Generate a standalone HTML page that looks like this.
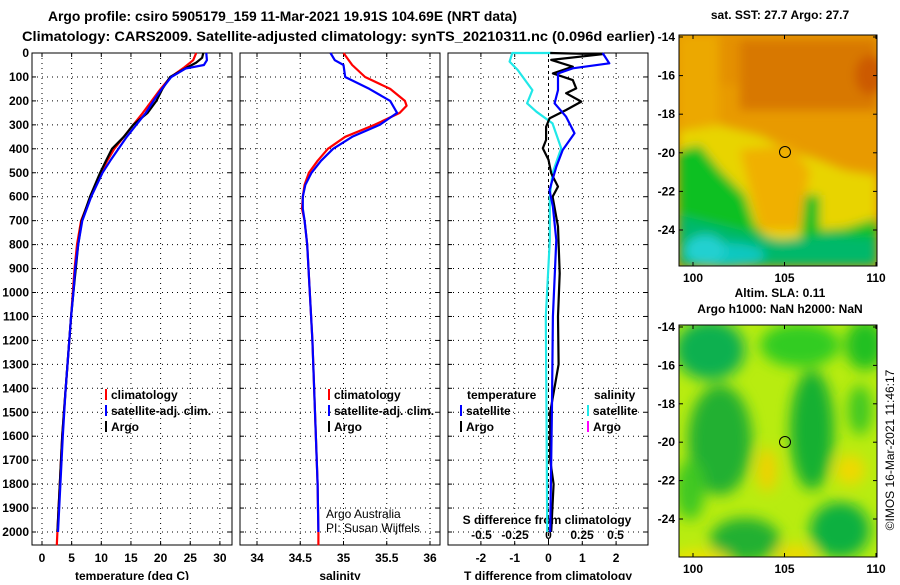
<!DOCTYPE html>
<html><head><meta charset="utf-8"><style>
body{margin:0;background:#fff;width:900px;height:580px;overflow:hidden}
svg text{font-family:"Liberation Sans",sans-serif;font-weight:bold;font-size:12px;fill:#000}
</style></head><body>
<svg id="c" width="900" height="580" xmlns="http://www.w3.org/2000/svg">
<defs>
<filter id="b3"><feGaussianBlur stdDeviation="5"/></filter>
<filter id="b7"><feGaussianBlur stdDeviation="7"/></filter>
<clipPath id="cm1"><rect x="679" y="35" width="198" height="231"/></clipPath>
<clipPath id="cm2"><rect x="679" y="325" width="198" height="232"/></clipPath>
</defs>
<text x="48" y="21" textLength="469" lengthAdjust="spacingAndGlyphs" style="font-size:14px">Argo profile: csiro 5905179_159 11-Mar-2021 19.91S 104.69E (NRT data)</text>
<text x="22" y="41" textLength="633" lengthAdjust="spacingAndGlyphs" style="font-size:14px">Climatology: CARS2009. Satellite-adjusted climatology: synTS_20210311.nc (0.096d earlier)</text>

<g>
<text x="780" y="19" text-anchor="middle">sat. SST: 27.7 Argo: 27.7</text>
<g clip-path="url(#cm1)">
<rect x="679" y="35" width="198" height="231" fill="#e89a00"/>
<g filter="url(#b3)">
<rect x="679" y="35" width="198" height="50" fill="#e49000"/>
<rect x="740" y="40" width="137" height="70" fill="#d87800"/>
<ellipse cx="870" cy="75" rx="15" ry="20" fill="#cc5a00"/>
<rect x="679" y="35" width="40" height="90" fill="#eca800"/>
<polygon points="679,130 720,125 760,135 790,150 820,160 845,170 877,175 877,240 679,240" fill="#e8d400"/>
<polygon points="740,150 790,145 810,170 800,230 760,230" fill="#f0b000"/>
<polygon points="679,150 700,145 720,170 745,195 755,225 775,245 800,240 805,195 820,195 820,230 845,228 877,218 877,266 679,266" fill="#10c020"/>
<polygon points="679,215 720,225 780,240 830,235 877,238 877,266 679,266" fill="#00b86a"/>
<ellipse cx="725" cy="255" rx="40" ry="12" fill="#10c8c0"/>
<ellipse cx="705" cy="250" rx="20" ry="15" fill="#20d0d0"/>
</g></g>
<rect x="679" y="35" width="198" height="231" fill="none" stroke="#000"/>
<circle cx="785" cy="152" r="5.5" fill="none" stroke="#000"/>
</g>

<g>
<text x="780" y="297" text-anchor="middle">Altim. SLA: 0.11</text>
<text x="780" y="313" text-anchor="middle">Argo h1000: NaN h2000: NaN</text>
<g clip-path="url(#cm2)">
<rect x="679" y="325" width="198" height="232" fill="#b8ec10"/>
<g filter="url(#b7)">
<ellipse cx="710" cy="350" rx="35" ry="30" fill="#10b050"/>
<ellipse cx="800" cy="345" rx="40" ry="22" fill="#30cc20"/>
<ellipse cx="865" cy="345" rx="20" ry="25" fill="#20c020"/>
<ellipse cx="720" cy="440" rx="32" ry="55" fill="#20b030"/>
<ellipse cx="812" cy="430" rx="22" ry="60" fill="#18b030"/>
<ellipse cx="860" cy="410" rx="12" ry="25" fill="#40c820"/>
<ellipse cx="745" cy="540" rx="35" ry="22" fill="#20b030"/>
<ellipse cx="840" cy="530" rx="30" ry="28" fill="#10b040"/>
<ellipse cx="690" cy="490" rx="15" ry="30" fill="#40c820"/>
<ellipse cx="767" cy="470" rx="10" ry="22" fill="#f0d000"/>
<ellipse cx="850" cy="470" rx="15" ry="15" fill="#f0d800"/>
<ellipse cx="795" cy="555" rx="20" ry="10" fill="#f0d800"/>
<ellipse cx="700" cy="560" rx="30" ry="10" fill="#f0e000"/>
</g></g>
<rect x="679" y="325" width="198" height="232" fill="none" stroke="#000"/>
<circle cx="785" cy="442" r="5.5" fill="none" stroke="#000"/>
</g>
<text transform="translate(894,450) rotate(-90)" text-anchor="middle" style="font-weight:normal;font-size:12px">©IMOS 16-Mar-2021 11:46:17</text>
</svg>
<script>
// ---- data ----
const depthTicks=[0,100,200,300,400,500,600,700,800,900,1000,1100,1200,1300,1400,1500,1600,1700,1800,1900,2000];
const tempTicks=[0,5,10,15,20,25,30];
const salTicks=[34,34.5,35,35.5,36];
const salTickLabels=["34","34.5","35","35.5","36"];
const tdiffTicks=[-2,-1,0,1,2];
const sdiffTickLabels=["-0.5","-0.25","0","0.25","0.5"];
const sdiffTicks=[-0.5,-0.25,0,0.25,0.5];
const latTicks=[-14,-16,-18,-20,-22,-24];
const lonTicks=[100,105,110];

const tArgoDepth=[0,20,40,60,100,150,200,250,300,350,400,450,500,600,700,800,900,1000,1100,1200,1300,1400,1500,1600,1700,1800,1900,2000];
const tArgo=[27.2,27.0,26.0,24.5,21.6,20.3,19.3,17.8,15.4,13.8,11.8,10.8,9.8,8.1,6.7,6.1,5.7,5.3,4.9,4.6,4.3,4.0,3.7,3.4,3.2,3.0,2.8,2.6];
const tClimDepth=[0,30,60,100,150,200,250,300,350,400,450,500,600,700,800,900,1000,1100,1200,1400,1600,1800,2000,2055];
const tClim=[26.0,25.5,24.0,21.7,20.0,18.5,17.0,15.4,13.8,12.2,11.0,10.0,8.2,6.6,5.9,5.5,5.2,4.9,4.6,4.0,3.4,3.0,2.6,2.5];
const tSatDepth=[0,30,50,65,100,150,200,250,300,350,400,450,500,600,700,800,900,1000,1100,1200,1400,1600,1800,2000];
const tSat=[27.7,27.8,27.3,24.2,21.8,20.2,18.8,17.5,15.9,14.3,12.9,11.5,10.2,8.3,6.8,6.1,5.6,5.3,4.9,4.6,4.0,3.5,3.1,2.7];

const sClimDepth=[0,50,100,150,200,220,250,300,350,400,450,500,550,600,650,700,800,1000,1200,1500,1800,2000,2055];
const sClim=[35.0,35.1,35.25,35.54,35.71,35.73,35.65,35.36,35.02,34.82,34.7,34.6,34.55,34.53,34.52,34.55,34.58,34.61,34.64,34.67,34.7,34.71,34.71];
const sSatDepth=[0,30,50,100,150,200,250,300,350,400,450,500,550,600,650,700,800,1000,1200,1500,1800,2000];
const sSat=[34.85,34.9,35.0,35.02,35.3,35.54,35.62,35.42,35.1,34.88,34.74,34.63,34.56,34.53,34.53,34.55,34.58,34.61,34.64,34.67,34.7,34.71];

const dTArgoDepth=[0,5,29,57,85,113,148,168,203,238,273,308,363,398,446,502,558,600,725,920,1100,1300,1500,1700,1800,2000];
const dTArgo=[0.05,1.6,0.08,0.72,0.13,0.72,0.82,0.52,0.97,0.52,0.03,-0.07,-0.07,-0.17,0.0,0.08,0.28,0.12,0.28,0.33,0.28,0.3,0.05,0.05,0.15,0.08];
const dTSatDepth=[0,43,64,85,155,210,266,335,405,475,572,642,781,1100,1500,2000];
const dTSat=[1.6,1.8,0.72,0.28,0.28,0.18,0.52,0.77,0.42,0.23,0.03,0.13,0.23,0.13,0.1,0.05];
const dSSatDepth=[0,0,36,71,155,210,245,294,398,502,600,781,1101,1500,2000];
const dSSat=[0.03,-0.27,-0.29,-0.23,-0.12,-0.16,-0.09,0.03,0.095,0.03,0.01,0.01,-0.02,-0.015,-0.01];

// ---- axes ----
const Y0=53, Y1=545;
const yD=d=>Y0+d*0.2395;
const xT=t=>42+t*5.93;
const xS=s=>257+(s-34)*86.5;
const xDT=v=>548.5+v*33.8;
const xDS=v=>548.5+v*134;
const lonX=l=>693+(l-100)*18.3;
const latY1=l=>37+(-14-l)*19.3;
const latY2=l=>327+(-14-l)*19.2;

const svg=document.getElementById('c');
const NS='http://www.w3.org/2000/svg';
function el(tag,attrs,parent){const e=document.createElementNS(NS,tag);for(const k in attrs)e.setAttribute(k,attrs[k]);(parent||svg).appendChild(e);return e;}
function txt(x,y,s,anchor,parent){const t=el('text',{x:x,y:y,'text-anchor':anchor||'middle'},parent);t.textContent=s;return t;}

const panels=[
 {x0:32,x1:232,name:'temperature-panel',ticks:tempTicks,labels:tempTicks.map(String),fx:xT,title:'temperature (deg C)'},
 {x0:240,x1:440,name:'salinity-panel',ticks:salTicks,labels:salTickLabels,fx:xS,title:'salinity'},
 {x0:448,x1:648,name:'difference-panel',ticks:tdiffTicks,labels:tdiffTicks.map(String),fx:xDT,title:'T difference from climatology'}
];
panels.forEach((p,i)=>{
 const g=el('g',{});
 
 
 depthTicks.forEach(d=>{
  const l=el('line',{x1:p.x0,x2:p.x1,y1:yD(d),y2:yD(d),stroke:'#000','stroke-width':1,'stroke-dasharray':'1,4'},g);
  
  
  el('line',{x1:p.x0,x2:p.x0+4,y1:yD(d),y2:yD(d),stroke:'#000'},g);
  el('line',{x1:p.x1-4,x2:p.x1,y1:yD(d),y2:yD(d),stroke:'#000'},g);
 });
 p.ticks.forEach((t,j)=>{
  const x=p.fx(t);
  const l=el('line',{x1:x,x2:x,y1:Y0,y2:Y1,stroke:'#000','stroke-width':1,'stroke-dasharray':(i==2&&t==0)?'3,3':'1,4'},g);
  
  
  el('line',{x1:x,x2:x,y1:Y1-4,y2:Y1,stroke:'#000'},g);
  el('line',{x1:x,x2:x,y1:Y0,y2:Y0+4,stroke:'#000'},g);
  const tl=txt(x,562,p.labels[j],'middle',g);
  
  
 });
 el('rect',{x:p.x0,y:Y0,width:p.x1-p.x0,height:Y1-Y0,fill:'none',stroke:'#000'},g);
 const at=txt((p.x0+p.x1)/2,580,p.title,'middle',g);
 
 
});
depthTicks.forEach(d=>{
 const t=txt(29,yD(d)+4,String(d),'end');
 
 
});
const sdt=txt(547,524,'S difference from climatology','middle');


sdiffTicks.forEach((v,j)=>{
 const t=txt(xDS(v),539,sdiffTickLabels[j],'middle');
 
 
});

function line(depths,vals,fx,color,name,w){
 const pts=depths.map((d,k)=>fx(vals[k]).toFixed(1)+','+yD(d).toFixed(1)).join(' ');
 const pl=el('polyline',{points:pts,fill:'none',stroke:color,'stroke-width':w||2.2,'stroke-linejoin':'round'});
 
 
}
line(tClimDepth,tClim,xT,'#f00','temp-climatology-line');
line(tArgoDepth,tArgo,xT,'#000','temp-argo-line');
line(tSatDepth,tSat,xT,'#00f','temp-satellite-line');
line(sClimDepth,sClim,xS,'#f00','sal-climatology-line');
line(sSatDepth,sSat,xS,'#00f','sal-satellite-line');
line(dSSatDepth,dSSat,xDS,'#20e8e8','sdiff-satellite-line');
line(dTArgoDepth,dTArgo,xDT,'#000','tdiff-argo-line');
line(dTSatDepth,dTSat,xDT,'#00f','tdiff-satellite-line');

function leg(x,y,color,label,name){
 const g=el('g',{});
 
 
 el('rect',{x:x,y:y-10,width:2,height:11,fill:color},g);
 txt(x+6,y,label,'start',g);
}
leg(105,399,'#f00','climatology','legend-climatology');
leg(105,415,'#00f','satellite-adj. clim.','legend-satellite-adj');
leg(105,431,'#000','Argo','legend-argo');
leg(328,399,'#f00','climatology','legend-sal-climatology');
leg(328,415,'#00f','satellite-adj. clim.','legend-sal-satellite-adj');
leg(328,431,'#000','Argo','legend-sal-argo');
const lt=txt(467,399,'temperature','start');


const ls=txt(594,399,'salinity','start');


leg(460,415,'#00f','satellite','legend-tdiff-satellite');
leg(460,431,'#000','Argo','legend-tdiff-argo');
leg(587,415,'#20e8e8','satellite','legend-sdiff-satellite');
leg(587,431,'#f0f','Argo','legend-sdiff-argo');
const cr=txt(326,518,'Argo Australia','start');
cr.setAttribute('style','font-weight:normal');


const pi=txt(326,532,'PI: Susan Wijffels','start');
pi.setAttribute('style','font-weight:normal');



[[latY1,35,266],[latY2,325,557]].forEach(([fy,top,bot],m)=>{
 latTicks.forEach(l=>{
  const y=fy(l);
  el('line',{x1:679,x2:683,y1:y,y2:y,stroke:'#000'});
  el('line',{x1:873,x2:877,y1:y,y2:y,stroke:'#000'});
  const t=txt(675,y+4,String(l),'end');
  
  
 });
 lonTicks.forEach(l=>{
  const x=lonX(l);
  el('line',{x1:x,x2:x,y1:bot-4,y2:bot,stroke:'#000'});
  el('line',{x1:x,x2:x,y1:top,y2:top+4,stroke:'#000'});
  const t=txt(x,bot+16,String(l),'middle');
  
  
 });
});
</script>
</body></html>
